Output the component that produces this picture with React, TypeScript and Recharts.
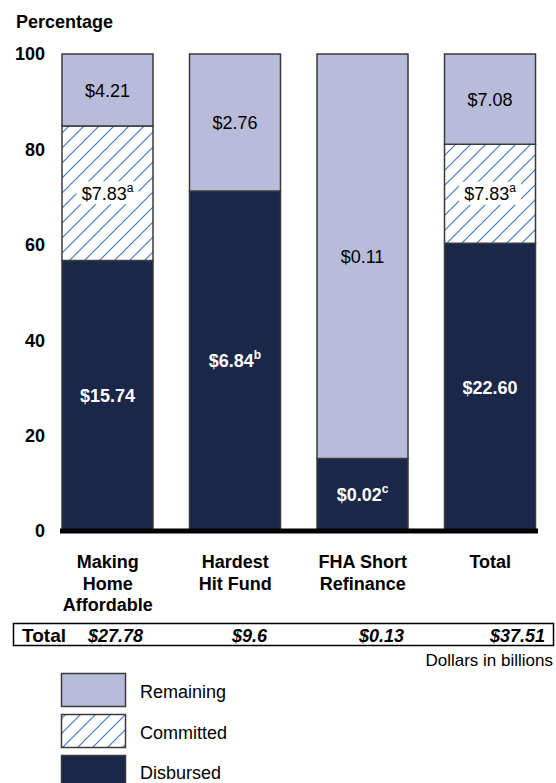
import React from 'react';
import { BarChart, Bar, XAxis, YAxis, LabelList } from 'recharts';

const categories = ['Making Home Affordable', 'Hardest Hit Fund', 'FHA Short Refinance', 'Total'];
const categoryLines = [['Making', 'Home', 'Affordable'], ['Hardest', 'Hit Fund'], ['FHA Short', 'Refinance'], ['Total']];
const disbursedPct = [56.7, 71.3, 15.2, 60.3];
const committedPct: (number | null)[] = [28.2, null, null, 20.8];
const remainingPct = [15.1, 28.7, 84.8, 18.9];
const disbursedLabels = ['$15.74', '$6.84', '$0.02', '$22.60'];
const disbursedNotes = ['', 'b', 'c', ''];
const committedLabels = ['$7.83', '', '', '$7.83'];
const committedNotes = ['a', '', '', 'a'];
const remainingLabels = ['$4.21', '$2.76', '$0.11', '$7.08'];
const totalsRow = ['$27.78', '$9.6', '$0.13', '$37.51'];
const yTicks = [0, 20, 40, 60, 80, 100];
const legendNames = ['Remaining', 'Committed', 'Disbursed'];

const FONT = 'Arial, "Liberation Sans", Helvetica, sans-serif';
const C_REMAIN = '#B8BCDA';
const C_DISB = '#1B2748';
const C_HATCH = '#3E7DC2';
const C_STROKE = '#3a3a3a';

const data = categories.map((c, i) => ({
  name: c,
  disbursed: disbursedPct[i],
  committed: committedPct[i],
  remaining: remainingPct[i],
}));

const makeLabel = (labels: string[], notes: string[], color: string, weight: string, bg: boolean) =>
  (props: any) => {
    const vb = props.viewBox && props.viewBox.width !== undefined ? props.viewBox : props;
    const { x, y, width, height } = vb;
    const index = categories.indexOf(props.value);
    if (index < 0) return null;
    const text = labels[index];
    if (!text) return null;
    const cx = x + width / 2;
    const cy = y + height / 2;
    const note = notes[index];
    const w = text.length * 9.6 + (note ? 8 : 0);
    return (
      <g>
        {bg && <rect x={cx - w / 2 - 3} y={cy - 12} width={w + 6} height={23} fill="#fff" />}
        <text x={cx} y={cy + 6.5} textAnchor="middle" fill={color} fontWeight={weight} fontSize={18} fontFamily={FONT}>
          {text}
          {note ? <tspan dy={-8} fontSize={12}>{note}</tspan> : null}
        </text>
      </g>
    );
  };

const XTick = (props: any) => {
  const { x, y, payload } = props;
  const idx = categories.indexOf(payload.value);
  const lines = categoryLines[idx] || [];
  return (
    <text x={x} y={y} textAnchor="middle" fill="#000" fontWeight="bold" fontSize={18} fontFamily={FONT}>
      {lines.map((l, i) => (
        <tspan key={i} x={x} y={y + 29 + i * 21.5}>{l}</tspan>
      ))}
    </text>
  );
};

const HatchDefs = () => (
  <pattern id="hatch" patternUnits="userSpaceOnUse" width="15" height="15">
    <rect width="15" height="15" fill="#fff" />
    <path d="M-4,4 L4,-4 M0,15 L15,0 M11,19 L19,11" stroke={C_HATCH} strokeWidth="1.2" />
  </pattern>
);

export default function App() {
  const legendFill = [C_REMAIN, 'url(#hatch2)', C_DISB];
  const totalEnds = [143, 267, 404, 545];
  return (
    <div style={{ position: 'absolute', left: 0, top: 0, width: 556, height: 783, background: '#fff', fontFamily: FONT }}>
      <BarChart
        width={556}
        height={620}
        data={data}
        margin={{ top: 54, right: 18, left: 0, bottom: 29 }}
        barSize={91}
      >
        <defs>
          <HatchDefs />
        </defs>
        <XAxis
          dataKey="name"
          height={60}
          padding={{ left: -16, right: -16 }}
          axisLine={{ stroke: '#000', strokeWidth: 5 }}
          tickLine={false}
          tick={<XTick />}
          interval={0}
        />
        <YAxis
          width={60}
          domain={[0, 100]}
          ticks={yTicks}
          axisLine={false}
          tickLine={false}
          tickMargin={9}
          tick={{ fill: '#000', fontWeight: 'bold', fontSize: 18, fontFamily: FONT }}
        />
        <Bar dataKey="disbursed" stackId="a" fill={C_DISB} stroke={C_STROKE} strokeWidth={1.5} isAnimationActive={false}>
          <LabelList dataKey="name" content={makeLabel(disbursedLabels, disbursedNotes, '#fff', 'bold', false)} />
        </Bar>
        <Bar dataKey="committed" stackId="a" fill="url(#hatch)" stroke={C_STROKE} strokeWidth={1.5} isAnimationActive={false}>
          <LabelList dataKey="name" content={makeLabel(committedLabels, committedNotes, '#000', 'normal', true)} />
        </Bar>
        <Bar dataKey="remaining" stackId="a" fill={C_REMAIN} stroke={C_STROKE} strokeWidth={1.5} isAnimationActive={false}>
          <LabelList dataKey="name" content={makeLabel(remainingLabels, remainingLabels.map(() => ''), '#000', 'normal', false)} />
        </Bar>
      </BarChart>
      <svg width={556} height={783} style={{ position: 'absolute', left: 0, top: 0, pointerEvents: 'none' }}>
        <defs>
          <pattern id="hatch2" patternUnits="userSpaceOnUse" width="15" height="15">
            <rect width="15" height="15" fill="#fff" />
            <path d="M-4,4 L4,-4 M0,15 L15,0 M11,19 L19,11" stroke={C_HATCH} strokeWidth="1.2" />
          </pattern>
        </defs>
        <text x={16} y={28} fontWeight="bold" fontSize={18} fontFamily={FONT} fill="#000">Percentage</text>
        <rect x={13.5} y={623.5} width={540} height={22} fill="none" stroke="#000" strokeWidth={1.5} />
        <text x={22} y={641.5} fontWeight="bold" fontSize={19} fontFamily={FONT} fill="#000">Total</text>
        {totalsRow.map((t, i) => (
          <text key={i} x={totalEnds[i]} y={641.5} textAnchor="end" fontWeight="bold" fontStyle="italic" fontSize={18} fontFamily={FONT} fill="#000">{t}</text>
        ))}
        <text x={553} y={666} textAnchor="end" fontSize={17} fontFamily={FONT} fill="#000">Dollars in billions</text>
        {legendNames.map((n, i) => (
          <g key={n}>
            <rect x={61.5} y={673.5 + i * 41} width={64} height={33} fill={legendFill[i]} stroke={C_STROKE} strokeWidth={1.5} />
            <text x={140} y={698 + i * 40.5} fontSize={18} fontFamily={FONT} fill="#000">{n}</text>
          </g>
        ))}
      </svg>
    </div>
  );
}
